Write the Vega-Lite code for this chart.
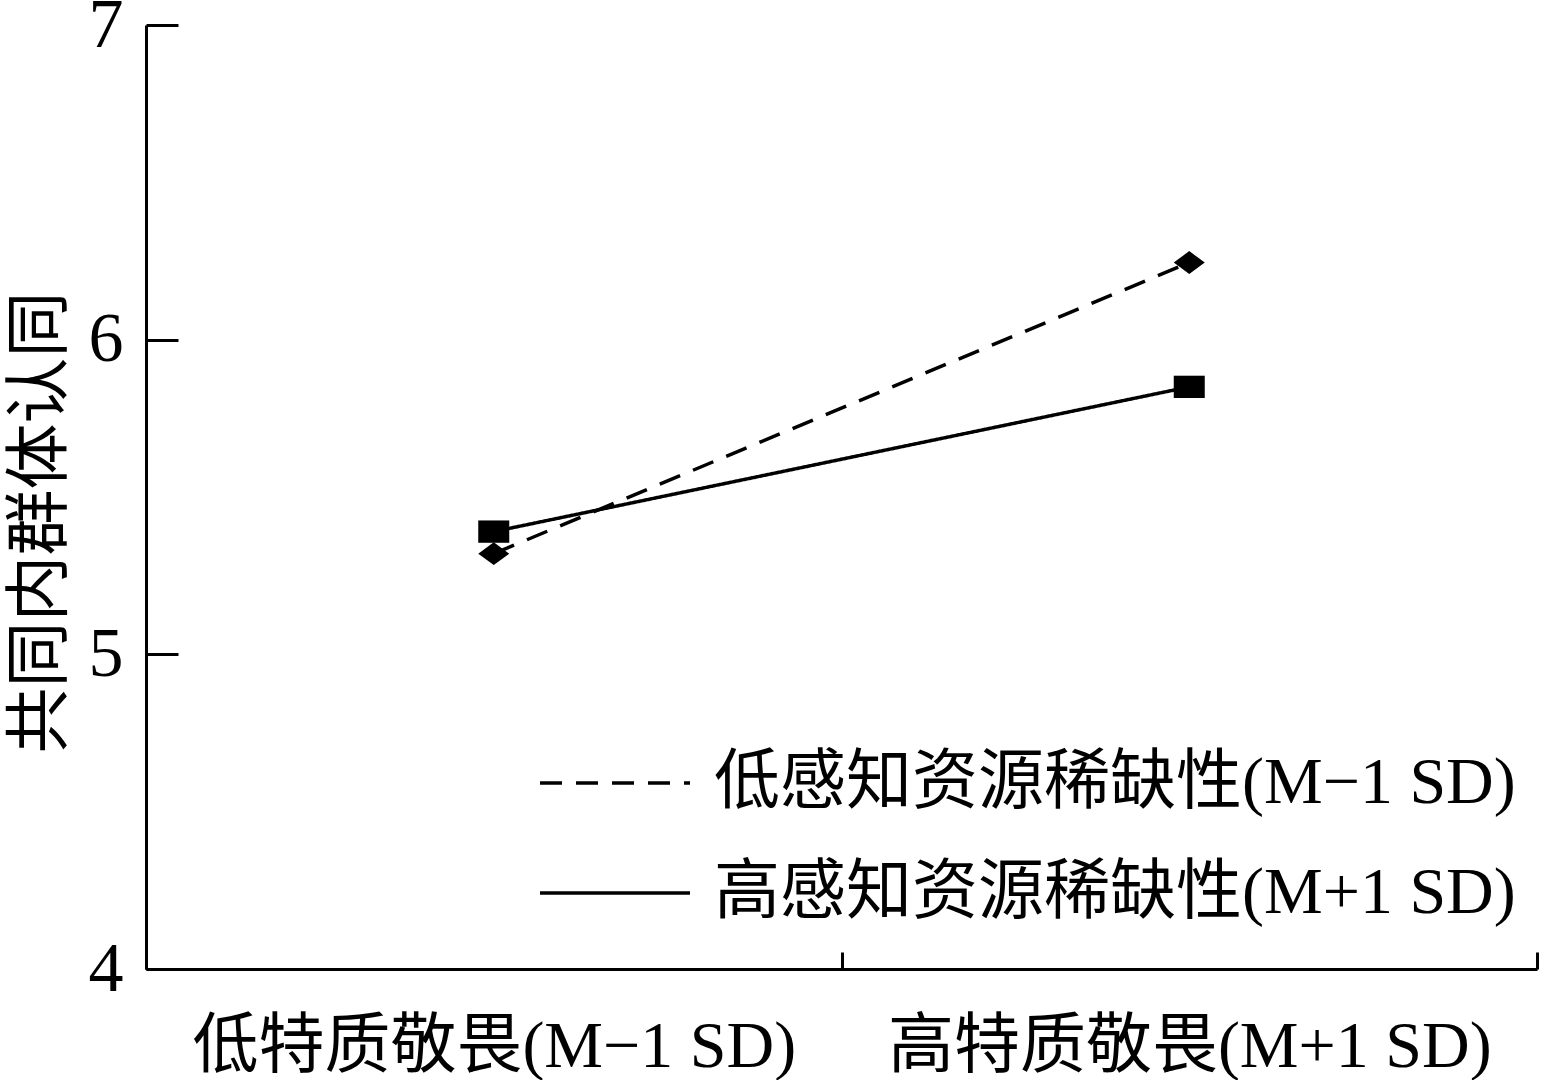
{
  "$schema": "https://vega.github.io/schema/vega-lite/v6.json",
  "width": 1391,
  "height": 944,
  "autosize": {"type": "none"},
  "padding": {"left": 146, "top": 25, "right": 4, "bottom": 111},
  "background": "white",
  "config": {"view": {"stroke": null}, "font": "Liberation Serif, Noto Sans CJK SC"},
  "data": {"values": [
    {"x": "低特质敬畏(M−1 SD)", "g": "低感知资源稀缺性(M−1 SD)", "y": 5.32},
    {"x": "高特质敬畏(M+1 SD)", "g": "低感知资源稀缺性(M−1 SD)", "y": 6.245},
    {"x": "低特质敬畏(M−1 SD)", "g": "高感知资源稀缺性(M+1 SD)", "y": 5.39},
    {"x": "高特质敬畏(M+1 SD)", "g": "高感知资源稀缺性(M+1 SD)", "y": 5.85}
  ]},
  "encoding": {
    "x": {
      "field": "x", "type": "nominal",
      "sort": ["低特质敬畏(M−1 SD)", "高特质敬畏(M+1 SD)"],
      "scale": {"type": "band", "paddingInner": 0, "paddingOuter": 0},
      "axis": {
        "title": null, "labelAngle": 0, "labelFontSize": 66, "labelFont": "Liberation Serif, Noto Sans CJK SC",
        "labelColor": "black", "labelPadding": 62, "labelLimit": 2000, "tickSize": -17, "tickWidth": 3, "tickColor": "black",
        "tickBand": "extent", "domainColor": "black", "domainWidth": 3, "grid": false, "labelOverlap": false
      }
    },
    "y": {
      "field": "y", "type": "quantitative",
      "scale": {"domain": [4, 7], "nice": false, "zero": false},
      "axis": {
        "values": [4, 5, 6, 7], "format": "d", "title": "共同内群体认同", "titleFontSize": 66,
        "titleFont": "Noto Sans CJK SC", "titleFontWeight": "normal", "titleColor": "black", "titlePadding": 14,
        "titleY": 497,
        "labelFontSize": 70, "labelFont": "Liberation Serif", "labelColor": "black", "labelPadding": 55,
        "labelFlush": false, "labelOverlap": false,
        "tickSize": -32, "tickWidth": 3, "tickColor": "black", "domainColor": "black", "domainWidth": 3, "grid": false
      }
    }
  },
  "layer": [
    {
      "mark": {"type": "line", "stroke": "black", "strokeWidth": 3.5},
      "encoding": {
        "strokeDash": {
          "field": "g", "type": "nominal",
          "scale": {"domain": ["低感知资源稀缺性(M−1 SD)", "高感知资源稀缺性(M+1 SD)"], "range": [[22, 14], [1, 0]]},
          "legend": {
            "title": null, "orient": "none", "legendX": 392, "legendY": 681,
            "symbolType": "M-1,0H1", "symbolSize": 22500, "symbolStrokeWidth": 3.5, "symbolStrokeColor": "black",
            "labelFontSize": 66, "labelFont": "Liberation Serif, Noto Sans CJK SC", "labelColor": "black",
            "labelOffset": 22, "rowPadding": -8, "labelLimit": 2000
          }
        }
      }
    },
    {
      "mark": {"type": "point", "filled": true, "color": "black", "opacity": 1, "size": 961},
      "encoding": {
        "shape": {
          "field": "g", "type": "nominal",
          "scale": {"range": ["M-1,0L0,-0.74L1,0L0,0.74Z", "M-1,-0.72H1V0.72H-1Z"]},
          "legend": null
        }
      }
    }
  ]
}
